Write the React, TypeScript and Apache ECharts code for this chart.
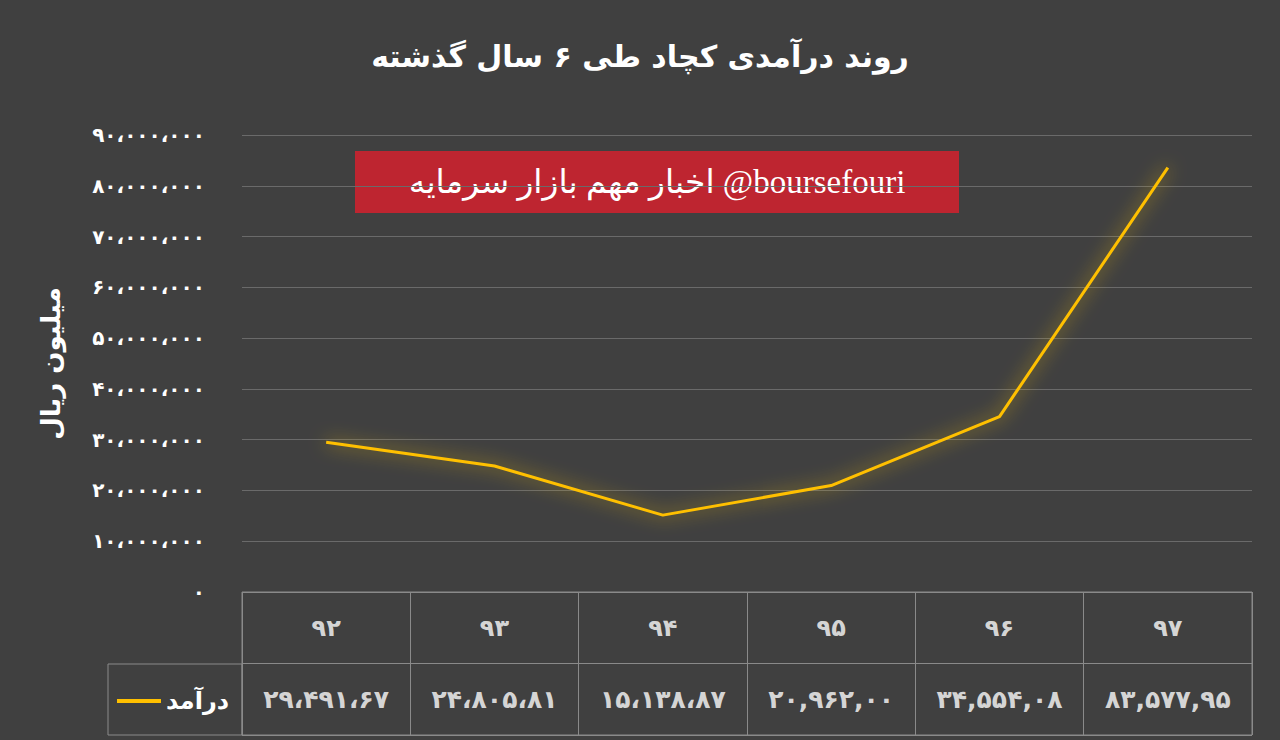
import React, { useEffect, useRef } from "react";
import * as echarts from "echarts";

const titleText = "روند درآمدی کچاد طی ۶ سال گذشته";
const bannerText = "اخبار مهم بازار سرمایه @boursefouri";
const yAxisName = "میلیون ریال";
const seriesName = "درآمد";
const categories = ["۹۲", "۹۳", "۹۴", "۹۵", "۹۶", "۹۷"];
const revenue = [29491670, 24805810, 15138870, 20962000, 34554080, 83577950];
const tableLabels = ["۲۹،۴۹۱،۶۷", "۲۴،۸۰۵،۸۱", "۱۵،۱۳۸،۸۷", "۲۰,۹۶۲,۰۰", "۳۴,۵۵۴,۰۸", "۸۳,۵۷۷,۹۵"];
const tableRows = ["values", "header"];
const yMin = 0;
const yMax = 90000000;
const yInterval = 10000000;

const FONT = "DejaVu Sans";
const toPersian = (s: string) => s.replace(/[0-9]/g, (d) => "۰۱۲۳۴۵۶۷۸۹"[Number(d)]);

export default function App() {
  const ref = useRef<HTMLDivElement>(null);
  useEffect(() => {
    if (!ref.current) return;
    const chart = echarts.init(ref.current, null, { renderer: "svg" });
    chart.setOption({
      animation: false,
      backgroundColor: "#404040",
      title: {
        text: titleText,
        left: "center",
        top: 36,
        textStyle: { color: "#ffffff", fontFamily: FONT, fontWeight: "bold", fontSize: 30 },
      },
      legend: {
        data: [seriesName],
        left: 112,
        top: 684,
        icon: "rect",
        itemWidth: 44,
        itemHeight: 4,
        itemGap: 6,
        textStyle: { color: "#ffffff", fontFamily: FONT, fontWeight: "bold", fontSize: 24 },
      },
      grid: [
        { left: 242, right: 28, top: 135, bottom: 148 },
        { left: 242, right: 28, top: 592, bottom: 5, show: true, borderColor: "#8a8a8a", borderWidth: 1, backgroundColor: "transparent" },
      ],
      xAxis: [
        { type: "category", gridIndex: 0, data: categories, boundaryGap: true, axisLine: { show: false }, axisTick: { show: false }, axisLabel: { show: false } },
        { type: "category", gridIndex: 1, data: categories, boundaryGap: true, axisLine: { show: false }, axisTick: { show: false }, axisLabel: { show: false }, splitLine: { show: true, lineStyle: { color: "#8a8a8a", width: 1 } } },
      ],
      yAxis: [
        {
          type: "value",
          gridIndex: 0,
          min: yMin,
          max: yMax,
          interval: yInterval,
          name: yAxisName,
          nameLocation: "middle",
          nameGap: 178,
          nameTextStyle: { color: "#ffffff", fontFamily: FONT, fontWeight: "bold", fontSize: 26 },
          axisLine: { show: false },
          axisTick: { show: false },
          axisLabel: {
            color: "#ffffff",
            fontFamily: FONT,
            fontWeight: "bold",
            fontSize: 20,
            margin: 37,
            formatter: (v: number) => toPersian(v.toLocaleString("en-US")).replace(/,/g, "،"),
          },
          splitLine: { show: true, lineStyle: { color: "#6a6a6a", width: 1 } },
        },
        {
          type: "category",
          gridIndex: 1,
          data: tableRows,
          axisLine: { show: false },
          axisTick: { show: false },
          axisLabel: { show: false },
          splitLine: { show: true, lineStyle: { color: "#8a8a8a", width: 1 } },
        },
      ],
      series: [
        {
          name: seriesName,
          type: "line",
          xAxisIndex: 0,
          yAxisIndex: 0,
          data: revenue,
          symbol: "none",
          itemStyle: { color: "#ffc000" },
          lineStyle: { color: "#ffc000", width: 3, shadowColor: "rgba(255,200,0,0.85)", shadowBlur: 18 },
        },
        {
          name: "header",
          type: "scatter",
          xAxisIndex: 1,
          yAxisIndex: 1,
          symbolSize: 0,
          data: categories.map((c) => [c, "header"]),
          label: {
            show: true,
            position: "inside",
            formatter: (p: any) => p.value[0],
            color: "#ffffff",
            fontFamily: FONT,
            fontWeight: "bold",
            fontSize: 24,
          },
          silent: true,
        },
        {
          name: "values",
          type: "scatter",
          xAxisIndex: 1,
          yAxisIndex: 1,
          symbolSize: 0,
          data: categories.map((c, i) => [c, "values", tableLabels[i]]),
          label: {
            show: true,
            position: "inside",
            formatter: (p: any) => p.value[2],
            color: "#ffffff",
            fontFamily: FONT,
            fontWeight: "bold",
            fontSize: 25,
          },
          silent: true,
        },
      ],
      graphic: [
        {
          type: "rect",
          shape: { x: 108, y: 664, width: 134, height: 71 },
          style: { fill: "transparent", stroke: "#8a8a8a", lineWidth: 1 },
          silent: true,
        },
        {
          type: "group",
          left: 355,
          top: 151,
          children: [
            { type: "rect", shape: { x: 0, y: 0, width: 604, height: 62 }, style: { fill: "#be2530" } },
            {
              type: "text",
              x: 302,
              y: 31,
              style: {
                text: bannerText,
                fill: "#ffffff",
                font: `33px "Liberation Serif", "DejaVu Sans", serif`,
                textAlign: "center",
                textVerticalAlign: "middle",
              },
            },
          ],
        },
      ],
    });
    return () => chart.dispose();
  }, []);
  return <div ref={ref} style={{ position: "fixed", left: 0, top: 0, width: 1280, height: 740 }} />;
}
